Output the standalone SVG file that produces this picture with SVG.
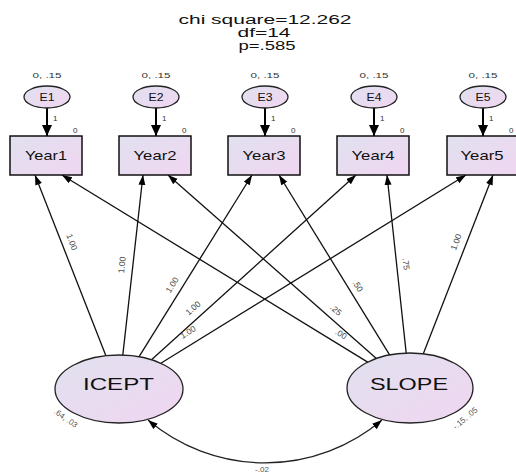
<svg xmlns="http://www.w3.org/2000/svg" width="516" height="473" viewBox="0 0 516 473">
<defs>
<linearGradient id="fill" x1="0" y1="0" x2="1" y2="1">
<stop offset="0" stop-color="#e1e1ef"/>
<stop offset="1" stop-color="#f0d6f1"/>
</linearGradient>
<marker id="ah" markerUnits="userSpaceOnUse" markerWidth="11" markerHeight="8" refX="10" refY="3.5" orient="auto">
<path d="M0,0 L10,3.5 L0,7 z" fill="#000"/>
</marker>
<marker id="ahE" markerUnits="userSpaceOnUse" markerWidth="12" markerHeight="11" refX="11" refY="5" orient="auto">
<path d="M0,0 L11,5 L0,10 z" fill="#000"/>
</marker>
<marker id="ahC" markerUnits="userSpaceOnUse" markerWidth="11" markerHeight="8" refX="10" refY="3.5" orient="auto-start-reverse">
<path d="M0,0 L10,3.5 L0,7 z" fill="#000"/>
</marker>
</defs>
<style>
text{font-family:"Liberation Sans",Arial,sans-serif;fill:#111}
.box{fill:url(#fill);stroke:#111;stroke-width:1.5}
.ell{fill:url(#fill);stroke:#222;stroke-width:1.3}
.t{font-size:12px;text-anchor:middle}
.yr{font-size:13px;text-anchor:middle}
.lat{font-size:17px;text-anchor:middle}
.e{font-size:10.5px;text-anchor:middle}
.sm{font-size:8px;fill:#333}
.pl{font-size:8.5px;fill:#444;text-anchor:middle}
.var{font-size:8px;fill:#555;text-anchor:middle}
.ln{stroke:#111;stroke-width:1.3;fill:none;marker-end:url(#ah)}
.le{stroke:#000;stroke-width:2;fill:none;marker-end:url(#ahE)}
</style>

<g id="title">
<text class="t" x="265" y="24" textLength="173" lengthAdjust="spacingAndGlyphs">chi square=12.262</text>
<text class="t" x="264" y="37" textLength="53" lengthAdjust="spacingAndGlyphs">df=14</text>
<text class="t" x="267" y="50" textLength="57" lengthAdjust="spacingAndGlyphs">p=.585</text>
</g>

<g id="connectors">
<line class="le" x1="47" y1="108" x2="47" y2="136"/>
<line class="le" x1="156" y1="108" x2="156" y2="136"/>
<line class="le" x1="265" y1="108" x2="265" y2="136"/>
<line class="le" x1="374" y1="108" x2="374" y2="136"/>
<line class="le" x1="483" y1="108" x2="483" y2="136"/>

<line class="ln" x1="105.9" y1="355.7" x2="35" y2="175"/>
<line class="ln" x1="122.8" y1="355.1" x2="143" y2="175"/>
<line class="ln" x1="139.1" y1="356.7" x2="252" y2="175"/>
<line class="ln" x1="151.5" y1="359.7" x2="356" y2="175"/>
<line class="ln" x1="160.8" y1="363.2" x2="466" y2="175"/>

<line class="ln" x1="367.7" y1="362.1" x2="62" y2="175"/>
<line class="ln" x1="376.4" y1="358.4" x2="168" y2="175"/>
<line class="ln" x1="389.6" y1="354.9" x2="279" y2="175"/>
<line class="ln" x1="406.2" y1="353.1" x2="387" y2="175"/>
<line class="ln" x1="423.3" y1="353.8" x2="493" y2="175"/>

<path d="M148,420 A181,181 0 0 0 382,420" stroke="#222" stroke-width="1.2" fill="none" marker-start="url(#ahC)" marker-end="url(#ahC)"/>

<text class="sm" x="53" y="121">1</text>
<text class="sm" x="162" y="121">1</text>
<text class="sm" x="271" y="121">1</text>
<text class="sm" x="380" y="121">1</text>
<text class="sm" x="489" y="121">1</text>

<text class="pl" transform="translate(72,242) rotate(69)" dy="3">1.00</text>
<text class="pl" transform="translate(122,265) rotate(-84)" dy="3">1.00</text>
<text class="pl" transform="translate(172,285) rotate(-58.6)" dy="3">1.00</text>
<text class="pl" transform="translate(193,308) rotate(-41.7)" dy="3">1.00</text>
<text class="pl" transform="translate(188,332) rotate(-31.7)" dy="3">1.00</text>

<text class="pl" transform="translate(341,334) rotate(31.4)" dy="3">.00</text>
<text class="pl" transform="translate(336,310) rotate(41.4)" dy="3">.25</text>
<text class="pl" transform="translate(358,286) rotate(58)" dy="3">.50</text>
<text class="pl" transform="translate(406,264) rotate(84)" dy="3">.75</text>
<text class="pl" transform="translate(456,242) rotate(-69)" dy="3">1.00</text>

<text class="var" x="262" y="472">-.02</text>
</g>

<g id="E1">
<text class="sm" x="47" y="78" text-anchor="middle" textLength="29" lengthAdjust="spacingAndGlyphs">0, .15</text>
<ellipse class="ell" cx="47" cy="97" rx="23" ry="11"/>
<text class="e" x="47" y="101" textLength="15" lengthAdjust="spacingAndGlyphs">E1</text>
</g>
<g id="E2">
<text class="sm" x="156" y="78" text-anchor="middle" textLength="29" lengthAdjust="spacingAndGlyphs">0, .15</text>
<ellipse class="ell" cx="156" cy="97" rx="23" ry="11"/>
<text class="e" x="156" y="101" textLength="15" lengthAdjust="spacingAndGlyphs">E2</text>
</g>
<g id="E3">
<text class="sm" x="265" y="78" text-anchor="middle" textLength="29" lengthAdjust="spacingAndGlyphs">0, .15</text>
<ellipse class="ell" cx="265" cy="97" rx="23" ry="11"/>
<text class="e" x="265" y="101" textLength="15" lengthAdjust="spacingAndGlyphs">E3</text>
</g>
<g id="E4">
<text class="sm" x="374" y="78" text-anchor="middle" textLength="29" lengthAdjust="spacingAndGlyphs">0, .15</text>
<ellipse class="ell" cx="374" cy="97" rx="23" ry="11"/>
<text class="e" x="374" y="101" textLength="15" lengthAdjust="spacingAndGlyphs">E4</text>
</g>
<g id="E5">
<text class="sm" x="483" y="78" text-anchor="middle" textLength="29" lengthAdjust="spacingAndGlyphs">0, .15</text>
<ellipse class="ell" cx="483" cy="97" rx="23" ry="11"/>
<text class="e" x="483" y="101" textLength="15" lengthAdjust="spacingAndGlyphs">E5</text>
</g>

<g id="Year1">
<rect class="box" x="10" y="136" width="72" height="39"/>
<text class="yr" x="46" y="160" textLength="42" lengthAdjust="spacingAndGlyphs">Year1</text>
<text class="sm" x="73" y="133">0</text>
</g>
<g id="Year2">
<rect class="box" x="119" y="136" width="72" height="39"/>
<text class="yr" x="155" y="160" textLength="43" lengthAdjust="spacingAndGlyphs">Year2</text>
<text class="sm" x="182" y="133">0</text>
</g>
<g id="Year3">
<rect class="box" x="228" y="136" width="72" height="39"/>
<text class="yr" x="264" y="160" textLength="43" lengthAdjust="spacingAndGlyphs">Year3</text>
<text class="sm" x="291" y="133">0</text>
</g>
<g id="Year4">
<rect class="box" x="337" y="136" width="72" height="39"/>
<text class="yr" x="373" y="160" textLength="43" lengthAdjust="spacingAndGlyphs">Year4</text>
<text class="sm" x="400" y="133">0</text>
</g>
<g id="Year5">
<rect class="box" x="447" y="136" width="72" height="39"/>
<text class="yr" x="482" y="160" textLength="43" lengthAdjust="spacingAndGlyphs">Year5</text>
<text class="sm" x="509" y="133">0</text>
</g>

<g id="ICEPT">
<ellipse class="ell" cx="119" cy="389" rx="64" ry="34"/>
<text class="lat" x="118.5" y="390" textLength="71" lengthAdjust="spacingAndGlyphs">ICEPT</text>
<text class="var" transform="translate(66,418) rotate(35)" dy="3">.64, .03</text>
</g>
<g id="SLOPE">
<ellipse class="ell" cx="410" cy="388" rx="63" ry="35"/>
<text class="lat" x="409" y="390" textLength="78" lengthAdjust="spacingAndGlyphs">SLOPE</text>
<text class="var" transform="translate(465,418) rotate(-40)" dy="3">-.15, .05</text>
</g>
</svg>
